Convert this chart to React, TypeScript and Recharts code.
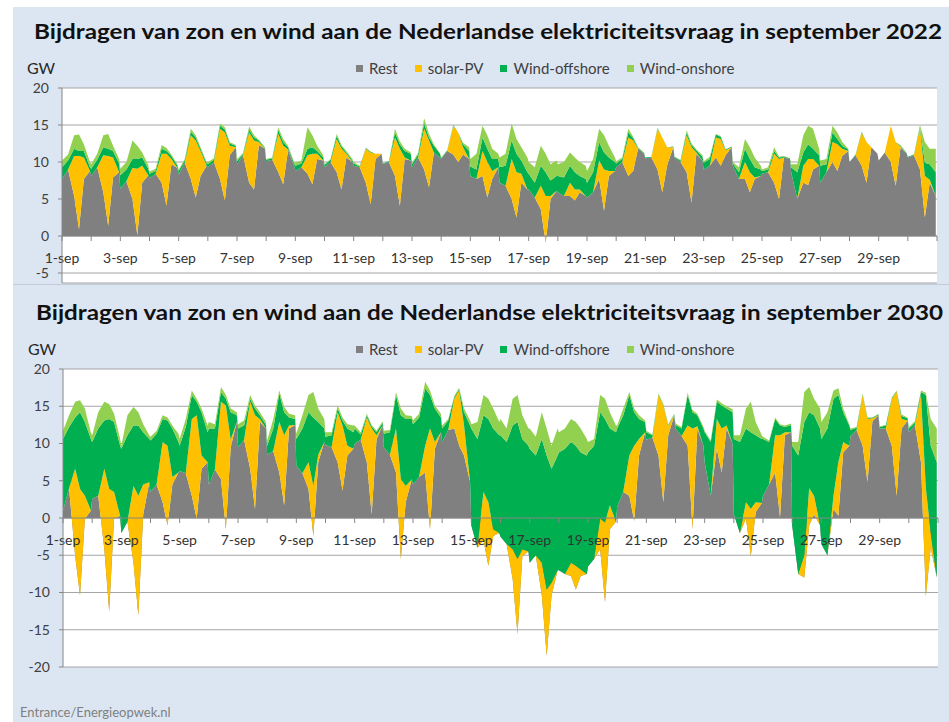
import React from 'react';
import { AreaChart, Area, XAxis, YAxis, CartesianGrid, ReferenceLine } from 'recharts';

// six readings per day, hour of day for each slot
const slotHours = [0, 5, 10, 14, 18, 23];
const dayCount = 30;
const dayLabels = ['1-sep', '3-sep', '5-sep', '7-sep', '9-sep', '11-sep', '13-sep', '15-sep',
  '17-sep', '19-sep', '21-sep', '23-sep', '25-sep', '27-sep', '29-sep'];
const yTicks2022 = [-5, 0, 5, 10, 15, 20];
const yTicks2030 = [-20, -15, -10, -5, 0, 5, 10, 15, 20];

// september 2022 (GW)
const rest2022 = [
  7.7, 9.0, 5.4, 0.9, 7.7, 8.8, 8.1, 9.3, 5.9, 1.4, 7.9, 8.6, 6.4, 7.4, 5.0, 0.1, 7.2, 8.2,
  7.8, 8.4, 7.2, 4.1, 9.7, 9.2, 8.3, 9.9, 7.7, 5.2, 8.1, 9.5, 9.3, 10.0, 7.7, 4.8, 10.9, 12.0,
  9.7, 10.9, 7.2, 6.3, 12.3, 11.8, 10.1, 10.3, 8.6, 7.0, 11.6, 9.5, 8.8, 9.3, 8.4, 7.0, 10.4, 10.2,
  9.3, 10.0, 8.6, 6.3, 10.6, 10.0, 9.5, 9.3, 7.2, 4.3, 10.4, 11.1, 9.7, 10.0, 8.1, 4.1, 10.4, 10.2,
  9.3, 10.6, 9.0, 6.6, 11.3, 10.6, 10.4, 11.5, 11.0, 10.0, 11.0, 10.4, 8.1, 7.7, 8.1, 5.2, 7.7, 9.3,
  7.2, 6.8, 5.0, 2.5, 7.2, 6.3, 6.3, 5.2, 3.6, -0.9, 5.0, 6.1, 5.9, 5.4, 5.4, 4.8, 5.9, 5.4,
  5.2, 5.9, 7.7, 3.4, 8.1, 8.8, 9.3, 10.0, 8.1, 8.8, 11.8, 11.1, 10.5, 10.6, 9.0, 5.9, 9.6, 12.0,
  10.6, 10.0, 8.6, 4.5, 11.1, 10.2, 9.0, 9.5, 10.6, 9.5, 10.9, 12.0, 9.5, 7.7, 7.7, 5.9, 7.7, 8.1,
  8.4, 8.6, 7.2, 5.0, 10.6, 10.4, 8.6, 5.0, 7.2, 6.9, 9.0, 9.5, 7.2, 8.6, 10.0, 8.8, 10.8, 11.5,
  10.0, 10.9, 9.5, 7.2, 12.0, 11.1, 10.2, 11.3, 10.0, 6.8, 12.0, 11.1, 10.6, 10.9, 9.0, 2.5, 7.2, 5.4,
];
const solar2022 = [
  0, 0, 5.4, 9.9, 2.9, 0, 0, 0, 5.0, 9.4, 2.7, 0, 0, 0, 4.2, 9.0, 2.3, 0,
  0, 0, 3.9, 7.0, 0.7, 0, 0, 0, 5.9, 7.7, 3.4, 0, 0, 0, 6.8, 9.2, 1.3, 0,
  0, 0, 6.8, 6.6, 0.4, 0, 0, 0, 5.2, 5.2, 0.1, 0, 0, 0, 2.5, 4.1, 0.7, 0,
  0, 0, 4.5, 5.5, 0.5, 0, 0, 0, 4.6, 7.0, 0.7, 0, 0, 0, 5.2, 7.7, 0.2, 0,
  0, 0, 5.5, 6.3, 0, 0, 0, 0, 3.9, 4.0, 1.0, 0, 0, 0, 3.4, 4.8, 1.1, 0,
  0, 0, 5.4, 6.1, 1.2, 0, 0, 0, 3.2, 6.3, 0.4, 0, 0, 0, 1.8, 1.5, 0.4, 0,
  0, 0, 2.5, 5.6, 0.7, 0, 0, 0, 5.2, 4.1, 0, 0, 0, 0, 5.5, 7.4, 2.4, 0,
  0, 0, 5.0, 7.5, 0.2, 0, 0, 0, 2.7, 3.6, 0.7, 0, 0, 0, 2.3, 2.7, 0.2, 0,
  0, 0, 3.9, 5.4, 0, 0, 0, 0, 2.3, 3.5, 1.4, 0, 0, 0, 2.7, 3.6, 1.0, 0,
  0, 0, 4.5, 5.5, 0, 0, 0, 0, 4.9, 5.9, 0.1, 0, 0, 0, 5.6, 5.6, 0.4, 0,
];
const offshore2022 = [
  1.6, 1.2, 1.0, 0.7, 0.9, 0.5, 1.0, 1.0, 1.1, 1.0, 0.9, 1.2, 1.8, 1.6, 1.2, 1.3, 1.1, 0.9,
  0.6, 0.4, 0.7, 0.4, 0.4, 0.3, 0.5, 0.3, 0.5, 0.4, 0.3, 0.3, 0.4, 0.3, 0.4, 0.4, 0.3, 0.2,
  0.4, 0.2, 0.4, 0.4, 0.2, 0.1, 0.2, 0.2, 0.5, 0.5, 0.3, 0.3, 0.7, 0.5, 0.9, 0.9, 0.4, 0.4,
  0.3, 0.3, 0.4, 0.3, 0.2, 0.2, 0.3, 0.1, 0.1, 0.1, 0, 0, 0.1, 0.1, 0.7, 0.6, 0.9, 0.9,
  0.4, 0.4, 0.7, 0.4, 0.9, 0.5, 0.1, 0.1, 0.1, 0, 0.4, 1.1, 1.3, 1.3, 1.8, 1.8, 1.6, 1.1,
  2.1, 2.7, 2.5, 2.5, 1.8, 2.3, 2.1, 2.0, 2.7, 3.2, 2.1, 2.0, 2.2, 2.5, 2.3, 2.3, 1.8, 2.3,
  2.0, 2.7, 2.5, 2.3, 1.8, 1.2, 0.5, 0.4, 0.7, 0.3, 0.1, 0.1, 0.1, 0.1, 0.1, 0, 0, 0.1,
  0.1, 0.2, 0.4, 0.3, 0.3, 0.5, 0.9, 0.9, 0.4, 0.3, 0.1, 0.1, 0.3, 0.9, 1.8, 1.8, 1.4, 0.9,
  0.4, 0.4, 0.4, 0.2, 0.1, 0.1, 0.7, 3.6, 1.8, 2.0, 1.4, 1.4, 2.3, 1.1, 1.3, 0.7, 0.4, 0.2,
  0, 0.1, 0.1, 0, 0, 0, 0, 0, 0, 0, 0.1, 0.1, 0.1, 0.1, 0.2, 1.8, 2.1, 3.2,
];
const onshore2022 = [
  0.9, 0.8, 1.8, 2.2, 0.9, 0.7, 0.6, 0.8, 1.6, 2.0, 0.7, 0.6, 0.9, 1.0, 2.5, 1.8, 0.7, 0.5,
  0.3, 0.3, 0.5, 0.4, 0.2, 0.2, 0.2, 0.2, 0.4, 0.3, 0.2, 0.2, 0.3, 0.2, 0.3, 0.3, 0.2, 0.1,
  0.3, 0.1, 0.4, 0.3, 0.1, 0.1, 0.1, 0.1, 0.4, 0.4, 0.2, 0.2, 0.4, 0.4, 2.9, 1.6, 0.7, 0.3,
  0.1, 0.1, 0.3, 0.2, 0.2, 0.2, 0.2, 0.1, 0, 0, 0, 0, 0, 0, 0.5, 0.4, 0.3, 0.2,
  0.2, 0.2, 0.7, 0.5, 0.2, 0.1, 0.1, 0, 0, 0, 0.2, 0.5, 1.0, 2.1, 1.6, 1.8, 1.4, 0.7,
  1.3, 1.6, 2.3, 2.0, 1.8, 2.0, 1.6, 2.1, 2.7, 2.5, 2.2, 2.1, 1.6, 2.1, 1.8, 2.0, 1.9, 1.8,
  1.6, 1.8, 1.8, 2.3, 1.6, 0.6, 0.3, 0.2, 0.5, 0.2, 0.1, 0.1, 0, 0, 0, 0, 0, 0,
  0, 0.1, 0.3, 0.2, 0.1, 0.2, 0.2, 0.3, 0.1, 0.1, 0, 0, 0.2, 0.7, 1.3, 1.6, 1.3, 0.5,
  0.2, 0.3, 0.5, 0.1, 0.1, 0, 0.4, 1.1, 2.3, 2.5, 2.7, 0.9, 0.7, 0.7, 0.9, 0.9, 0.5, 0.1,
  0, 0, 0, 0, 0, 0, 0, 0, 0, 0, 0.1, 0, 0, 0, 0.2, 2.8, 2.1, 3.2,
];

// september 2030 (GW)
const rest2030 = [
  1.0, 4.0, -5.1, -10.4, -0.1, 1.0, 2.6, 3.0, -4.2, -12.5, -0.1, 0.3, -2.0, -0.5, -6.0, -13.1, 0.5, 4.8,
  3.5, 4.5, 2.1, -1.0, 4.5, 6.1, 6.3, 6.0, 3.0, -0.1, 6.6, 7.5, 4.5, 6.5, 5.2, -1.5, 9.5, 12.9,
  9.5, 10.5, 6.6, 1.2, 12.9, 12.0, 8.5, 9.0, 6.1, 1.7, 12.0, 12.5, 7.0, 6.0, 3.9, -2.4, 7.5, 10.2,
  9.8, 9.5, 7.5, 3.7, 8.4, 9.3, 10.0, 10.5, 7.5, 0.5, 10.6, 12.4, 9.5, 8.5, 6.1, -5.5, 2.1, 5.2,
  4.5, 5.5, 6.1, -1.5, 9.3, 11.5, 10.2, 11.8, 12.0, 9.7, 8.4, 4.8, -1.0, -4.0, -3.0, -6.4, -2.4, -2.0,
  -2.5, -3.5, -8.2, -15.6, -5.1, -4.5, -6.0, -5.0, -10.4, -18.5, -10.4, -7.0, -7.0, -7.5, -7.8, -9.6, -7.8, -7.5,
  -6.5, -5.5, -4.2, -11.3, -1.5, -0.5, 1.5, 3.5, 3.0, -0.4, 8.4, 11.5, 10.5, 10.8, 8.4, 2.1, 11.1, 13.8,
  12.0, 11.0, 9.7, -1.5, 12.0, 9.7, 7.5, 3.0, 9.3, 6.1, 12.0, 10.0, 0.5, -2.0, -0.1, -5.1, 0.8, 2.0,
  3.0, 4.5, 6.1, 0.1, 11.1, 11.5, -1.0, -7.5, -8.0, -1.0, 0.5, -1.0, -3.5, -5.0, 1.2, 0.3, 8.8, 9.7,
  11.0, 11.8, 9.7, 4.8, 13.0, 13.8, 12.0, 12.0, 9.7, 3.0, 12.0, 13.1, 11.5, 12.5, 7.5, -10.5, -4.0, -8.0,
];
const solar2030 = [
  0, 0, 11.7, 14.3, 3.1, 0, 0, 0, 10.8, 16.4, 3.6, 0, 0, 0, 10.3, 16.1, 4.0, 0,
  0, 0, 8.1, 10.7, 1.0, 0, 0, 0, 10.3, 13.9, 1.8, 0, 0, 0, 10.4, 16.6, 1.0, 0,
  0, 0, 9.0, 12.6, 0.4, 0, 0, 0, 6.8, 9.4, 0.4, 0, 0, 0, 3.6, 6.7, 1.0, 0,
  0, 0, 6.7, 8.7, 1.3, 0, 0, 0, 6.0, 11.5, 0.5, 0, 0, 0, 5.9, 10.7, 2.2, 0,
  0, 0, 3.6, 13.5, 0.9, 0, 0, 0, 4.0, 7.4, 4.0, 0, 0, 0, 6.5, 8.5, 0.9, 0,
  0, 0, 4.0, 10.1, 0.9, 0, 0, 0, 4.4, 8.9, 1.7, 0, 0, 0, 1.8, 3.2, 0.9, 0,
  0, 0, 4.1, 10.7, 3.2, 0, 0, 0, 5.4, 10.1, 2.2, 0, 0, 0, 8.1, 13.0, 1.3, 0,
  0, 0, 2.7, 13.5, 0.3, 0, 0, 0, 4.0, 5.9, 0.4, 0, 0, 0, 2.2, 6.3, 1.3, 0,
  0, 0, 5.0, 11.0, 0.4, 0, 0, 0, 3.0, 5.0, 2.5, 0, 0, 0, 1.8, 7.2, 1.4, 0,
  0, 0, 6.8, 8.5, 0.4, 0, 0, 0, 6.3, 13.9, 1.3, 0, 0, 0, 9.0, 14.5, 2.0, 0,
];
const offshore2030 = [
  9.6, 8.2, 6.9, 10.3, 9.9, 9.6, 7.6, 9.0, 6.5, 9.4, 9.4, 9.4, 11.3, 11.6, 8.1, 9.4, 7.0, 5.8,
  6.9, 6.8, 3.1, 3.4, 6.5, 4.1, 3.4, 6.2, 3.2, 1.8, 5.8, 4.0, 7.5, 5.5, 1.3, 0.9, 3.7, 0.9,
  2.5, 1.9, 0.4, 0.9, 0.5, 0.5, 1.2, 3.0, 3.8, 3.1, 1.1, 0.8, 3.6, 6.0, 6.7, 9.2, 4.4, 1.8,
  1.1, 1.6, 0.5, 0.7, 2.3, 2.2, 2.0, 0.7, 0.3, 0.3, 0.4, 0.4, 1.8, 3.0, 4.5, 8.6, 9.0, 8.1,
  8.1, 8.0, 7.7, 4.5, 4.5, 2.0, 1.8, 1.3, 0.2, 0.2, 1.8, 7.6, 13.0, 14.6, 10.3, 11.2, 13.5, 13.1,
  13.6, 13.7, 16.6, 18.4, 14.8, 14.2, 15.3, 13.4, 16.6, 18.0, 15.3, 15.4, 15.8, 16.8, 16.2, 16.1, 15.7, 15.9,
  15.3, 15.2, 14.3, 13.9, 10.3, 12.0, 10.5, 10.3, 8.1, 4.5, 2.7, 1.4, 1.0, 0.3, 0.1, 0.1, 0.1, 0.1,
  0.5, 1.0, 4.1, 2.2, 1.5, 2.3, 4.0, 7.2, 2.3, 3.1, 2.3, 4.2, 10.1, 12.2, 9.9, 10.3, 9.0, 8.6,
  7.6, 5.7, 2.2, 1.3, 0.7, 1.0, 10.7, 15.9, 17.9, 10.2, 10.8, 13.0, 14.1, 17.0, 13.0, 9.0, 4.0, 2.7,
  0.8, 0.3, 0.1, 0.1, 0.1, 0.1, 0.2, 0.4, 0.1, 0.1, 0.4, 0.3, 0.5, 0.3, 0.4, 12.5, 11.7, 15.5,
];
const onshore2030 = [
  1.1, 1.6, 2.1, 1.6, 1.8, 0.8, 0.9, 2.2, 2.5, 2.0, 1.1, 0.9, 0.4, 2.7, 2.5, 1.8, 1.1, 0.5,
  0.5, 0.4, 0.5, 0.4, 0.4, 1.1, 0.9, 1.1, 0.6, 0.4, 0.5, 0.9, 0.9, 0.6, 0.7, 0.5, 0.5, 0.4,
  0.6, 0.7, 0.5, 0.4, 0.4, 0.4, 0.7, 1.3, 0.4, 0.7, 0.5, 0.5, 0.7, 1.8, 2.3, 3.4, 1.8, 1.3,
  0.6, 0.4, 0.4, 0.4, 0.6, 0.9, 0.4, 0.3, 0.2, 0.2, 0.2, 0.2, 0.4, 0.3, 0.4, 0.9, 0.5, 0.4,
  0.5, 0.5, 0.9, 0.6, 0.4, 0.5, 0.4, 0.2, 0.2, 0.2, 0.5, 0.7, 0.6, 2.3, 2.7, 2.7, 2.7, 1.8,
  2.2, 1.8, 3.6, 3.6, 3.2, 2.3, 2.7, 2.5, 3.6, 3.6, 3.1, 3.6, 2.7, 2.7, 3.1, 3.2, 3.2, 2.2,
  1.4, 0.9, 2.3, 2.7, 2.2, 0.9, 0.4, 0.9, 0.4, 0.5, 0.5, 0.2, 0.2, 0.1, 0.1, 0.1, 0.1, 0.1,
  0.2, 0.2, 0.3, 0.3, 0.2, 0.2, 0.2, 0.2, 0.3, 0.3, 0.3, 0.4, 0.5, 0.9, 2.7, 4.1, 1.8, 0.5,
  0.3, 0.2, 0.2, 0.2, 0.2, 0.2, 0.5, 1.8, 4.0, 3.4, 2.2, 2.7, 2.3, 2.2, 1.1, 0.9, 0.5, 0.2,
  0.2, 0.1, 0.1, 0.1, 0, 0.1, 0.1, 0.1, 0.1, 0.1, 0.2, 0.1, 0.2, 0.2, 0.2, 0.3, 3.6, 4.5,
];

const series = [
  { key: 'rest', name: 'Rest', color: '#808080' },
  { key: 'solar', name: 'solar-PV', color: '#ffc000' },
  { key: 'offshore', name: 'Wind-offshore', color: '#00b050' },
  { key: 'onshore', name: 'Wind-onshore', color: '#92d050' },
];

const font = 'Lato, "Open Sans", sans-serif';

const buildRows = (rest: number[], solar: number[], offshore: number[], onshore: number[]) =>
  rest.map((v, i) => ({
    h: Math.floor(i / 6) * 24 + slotHours[i % 6],
    rest: v,
    solar: solar[i],
    offshore: offshore[i],
    onshore: onshore[i],
  }));

const rows2022 = buildRows(rest2022, solar2022, offshore2022, onshore2022);
const rows2030 = buildRows(rest2030, solar2030, offshore2030, onshore2030);

// x axis drawn along the zero line, with a tick per day and a label every other day
const ZeroAxis = (props: any) => {
  const { x1, x2, y1 } = props;
  const step = (x2 - x1) / dayCount;
  return (
    <g>
      <line x1={x1} x2={x2} y1={y1} y2={y1} stroke="#868686" strokeWidth={1.2} />
      {Array.from({ length: dayCount + 1 }, (_, d) => (
        <line key={d} x1={x1 + d * step} x2={x1 + d * step} y1={y1} y2={y1 + 5} stroke="#868686" />
      ))}
      {dayLabels.map((lab, k) => (
        <text key={lab} x={x1 + 2 * k * step} y={y1 + 27} textAnchor="middle"
          fontFamily={font} fontSize={14} fill="#333">
          {lab}
        </text>
      ))}
    </g>
  );
};

const LegendRow = ({ top }: { top: number }) => (
  <div style={{ position: 'absolute', left: 356, top, display: 'flex', gap: 17, fontFamily: font, fontSize: 15, color: '#404040', lineHeight: '16px' }}>
    {series.map(s => (
      <div key={s.key} style={{ display: 'flex', alignItems: 'center' }}>
        <span style={{ width: 7, height: 7, background: s.color, marginRight: 6 }} />
        {s.name}
      </div>
    ))}
  </div>
);

interface BlockProps {
  data: any[];
  top: number;
  height: number;
  margin: { top: number; right: number; bottom: number; left: number };
  domain: [number, number];
  ticks: number[];
}

const Block = ({ data, top, height, margin, domain, ticks }: BlockProps) => (
  <div style={{ position: 'absolute', left: 0, top }}>
    <AreaChart width={949} height={height} data={data} margin={margin}>
      <CartesianGrid vertical={false} stroke="#a6a6a6" fill="#ffffff" fillOpacity={1} />
      <XAxis type="number" dataKey="h" domain={[0, 720]} hide />
      <YAxis type="number" domain={domain} ticks={ticks} allowDataOverflow width={50}
        axisLine={{ stroke: '#868686' }} tickLine={{ stroke: '#868686' }} tickSize={4} tickMargin={9}
        tick={{ fontFamily: font, fontSize: 14, fill: '#404040' }} />
      {series.map(s => (
        <Area key={s.key} type="linear" dataKey={s.key} name={s.name} stackId="a"
          stroke="none" fill={s.color} fillOpacity={1} dot={false} activeDot={false}
          isAnimationActive={false} />
      ))}
      <ReferenceLine y={0} shape={ZeroAxis} />
    </AreaChart>
  </div>
);

export default function App() {
  return (
    <div style={{ position: 'absolute', left: 0, top: 0, width: 949, height: 722, background: '#ffffff', overflow: 'hidden' }}>
      <div style={{ position: 'absolute', left: 13, top: 7, width: 936, height: 715, background: '#dce6f2' }} />
      <div style={{ position: 'absolute', left: 13, top: 284, width: 936, height: 1, background: '#c3cbd6' }} />
      <svg width={949} height={722} style={{ position: 'absolute', left: 0, top: 0 }}>
        <text x={34} y={39} fontFamily={font} fontWeight={700} fontSize={21} fill="#111"
          textLength={908} lengthAdjust="spacingAndGlyphs">
          Bijdragen van zon en wind aan de Nederlandse elektriciteitsvraag in september 2022
        </text>
        <text x={36} y={320} fontFamily={font} fontWeight={700} fontSize={21} fill="#111"
          textLength={907} lengthAdjust="spacingAndGlyphs">
          Bijdragen van zon en wind aan de Nederlandse elektriciteitsvraag in september 2030
        </text>
        <text x={27} y={74} fontFamily={font} fontSize={16} fill="#262626">GW</text>
        <text x={28} y={355} fontFamily={font} fontSize={16} fill="#262626">GW</text>
        <text x={20} y={717} fontFamily={font} fontSize={13} fill="#7f7f7f">Entrance/Energieopwek.nl</text>
      </svg>
      <LegendRow top={60} />
      <LegendRow top={341} />
      <Block data={rows2022} top={0} height={284}
        margin={{ top: 88, right: 12, bottom: 1, left: 12 }} domain={[-6.35, 20]} ticks={yTicks2022} />
      <Block data={rows2030} top={284} height={438}
        margin={{ top: 85, right: 11, bottom: 55, left: 13 }} domain={[-20, 20]} ticks={yTicks2030} />
    </div>
  );
}
